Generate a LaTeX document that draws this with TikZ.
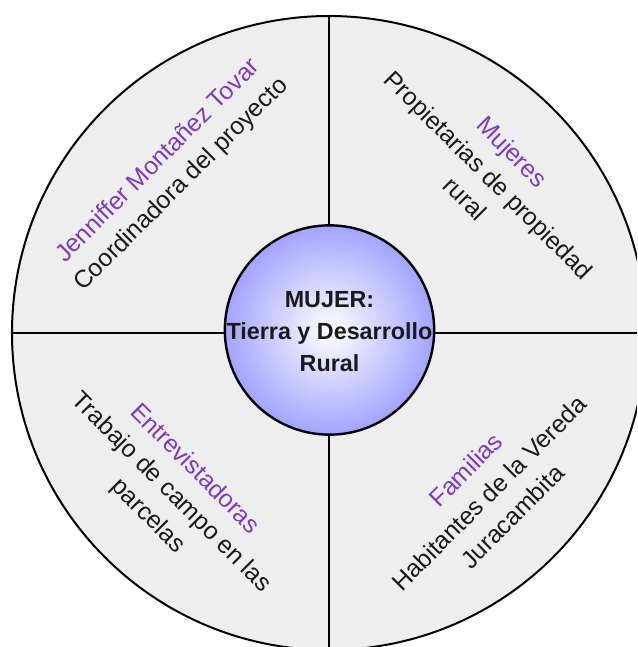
\documentclass[tikz,border=0pt]{standalone}
\usepackage{fontspec}
\setmainfont{Liberation Sans}
\definecolor{ringgray}{HTML}{EEEEEE}
\definecolor{hubblue}{HTML}{A3A3FF}
\definecolor{titlepurple}{HTML}{7A3DBF}
\definecolor{bodytext}{HTML}{1A1A1A}
\begin{document}
\begin{tikzpicture}[x=0.75pt,y=0.75pt,
  quadtext/.style={align=center,inner sep=0pt,text=bodytext,
    font=\fontsize{18.5}{24.75}\selectfont},
  ringline/.style={draw=black,line width=2pt},
  hubnode/.style={circle,draw=black,line width=1.8pt,inner sep=0pt,
    inner color=white,outer color=hubblue,minimum size=157pt},
  hubtext/.style={align=center,inner sep=0pt,text=bodytext,
    font=\bfseries\fontsize{17.5}{24}\selectfont}]
\useasboundingbox (-329,-314) rectangle (308,333);
\clip (-329,-314) rectangle (308,333);
\fill[white] (-329,-314) rectangle (308,333);
\node[circle,draw=black,line width=1.5pt,fill=ringgray,inner sep=0pt,
  minimum size=475.5pt] (ring) at (0,0) {};
\draw[ringline] (ring.north) -- (ring.south);
\draw[ringline] (ring.west) -- (ring.east);
\node[hubnode] (hub) at (0.5,3) {};
\node[hubtext] (hubt) at ([yshift=-1.5pt]hub.center) {MUJER:\\Tierra y Desarrollo\\Rural};
\node[quadtext,rotate=45] (tl) at (-159,160)
  {\textcolor{titlepurple}{Jenniffer Montañez Tovar}\\Coordinadora del proyecto};
\node[quadtext,rotate=-45] (tr) at (160,158)
  {\textcolor{titlepurple}{Mujeres}\\Propietarias de propiedad\\rural};
\node[quadtext,rotate=-45] (bl) at (-158,-160)
  {\textcolor{titlepurple}{Entrevistadoras}\\Trabajo de campo en las\\parcelas};
\node[quadtext,rotate=45] (br) at (160,-160)
  {\textcolor{titlepurple}{Familias}\\Habitantes de la Vereda\\Juracambita};
\end{tikzpicture}
\end{document}
